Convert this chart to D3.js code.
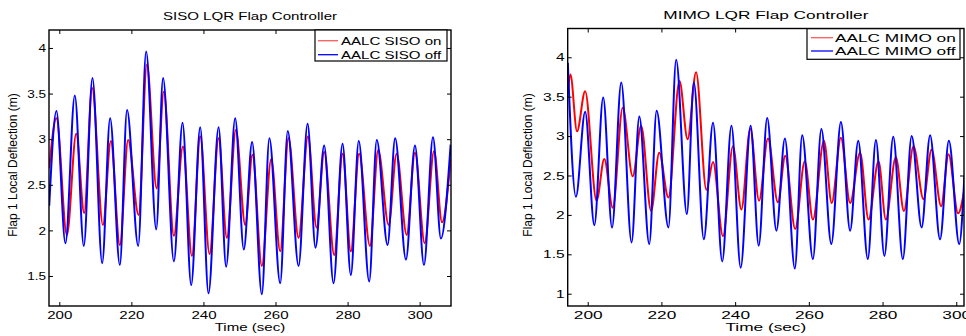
<!DOCTYPE html>
<html>
<head>
<meta charset="utf-8">
<script src="https://cdn.jsdelivr.net/npm/d3@7"></script>
<style>
  html, body { margin: 0; padding: 0; background: #fff; }
  svg { display: block; font-family: "Liberation Sans", Arial, sans-serif; }
</style>
</head>
<body>
<svg id="chart" width="966" height="336"></svg>
<script>
// ---------------- DATA ----------------
const xTicks = [200, 220, 240, 260, 280, 300];
const yTicksSiso = [1.5, 2, 2.5, 3, 3.5, 4];
const yTicksMimo = [1, 1.5, 2, 2.5, 3, 3.5, 4];

const sisoOffT = [197.2, 199.2, 201.7, 204.3, 206.8, 209.2, 211.9, 214.1, 216.8, 218.8, 221.9, 224.1, 226.9, 228.8, 231.8, 234.2, 236.6, 239.1, 241.4, 244.2, 246.3, 248.8, 251.2, 253.5, 256.2, 258.3, 261.3, 263.4, 266.4, 268.9, 271.1, 273.5, 276.1, 278.6, 280.9, 283.1, 286.0, 288.1, 291.1, 293.2, 296.2, 298.7, 301.2, 303.7, 305.9, 308.6];
const sisoOffV = [2.27, 3.31, 1.86, 3.48, 1.83, 3.67, 1.64, 3.23, 1.62, 3.32, 1.83, 3.96, 2.01, 3.67, 1.66, 3.18, 1.40, 3.13, 1.31, 3.13, 1.60, 3.23, 1.79, 2.97, 1.30, 3.01, 1.42, 3.09, 1.61, 3.17, 1.81, 2.93, 1.42, 2.95, 1.51, 2.98, 1.44, 2.99, 1.84, 3.01, 1.68, 2.93, 1.62, 3.02, 1.91, 2.94];

const sisoOnT = [197.2, 199.2, 202.1, 204.7, 206.9, 209.1, 212.1, 214.3, 216.8, 219.1, 222.0, 224.3, 227.0, 229.0, 231.8, 234.3, 236.8, 239.1, 241.7, 244.2, 246.5, 249.0, 251.6, 253.6, 256.2, 258.8, 261.3, 263.6, 266.4, 269.0, 271.4, 273.5, 276.3, 278.6, 280.9, 283.2, 286.2, 288.5, 291.4, 293.6, 296.4, 298.7, 301.4, 304.0, 306.2, 308.6];
const sisoOnV = [2.68, 3.23, 1.95, 3.06, 2.19, 3.56, 2.06, 2.98, 1.84, 2.99, 2.17, 3.82, 2.46, 3.52, 1.94, 2.92, 1.72, 3.03, 1.74, 3.01, 1.92, 3.10, 2.06, 2.83, 1.61, 2.78, 1.77, 3.01, 1.92, 3.03, 2.03, 2.86, 1.73, 2.84, 1.77, 2.84, 1.83, 2.88, 2.06, 2.84, 1.95, 2.85, 1.86, 2.87, 2.09, 2.78];

const mimoOffT = [194.6, 196.8, 199.3, 201.8, 204.2, 206.6, 209.1, 211.9, 214.0, 216.7, 218.7, 221.9, 224.0, 226.9, 228.8, 231.5, 234.0, 236.5, 239.0, 241.5, 244.2, 246.4, 248.7, 251.2, 253.5, 256.2, 258.2, 261.1, 263.4, 266.1, 268.7, 271.2, 273.4, 276.0, 278.2, 280.5, 282.9, 285.5, 287.9, 290.6, 292.9, 295.6, 298.0, 300.8, 302.2];
const mimoOffV = [3.93, 2.23, 3.31, 1.87, 3.49, 1.84, 3.68, 1.65, 3.25, 1.63, 3.32, 1.84, 3.97, 2.01, 3.68, 1.69, 3.17, 1.41, 3.13, 1.33, 3.13, 1.61, 3.23, 1.80, 2.97, 1.32, 3.01, 1.44, 3.09, 1.63, 3.18, 1.80, 2.94, 1.44, 2.95, 1.48, 2.99, 1.44, 3.00, 1.84, 3.01, 1.69, 2.94, 1.63, 2.49];

const mimoOnT = [194.6, 195.3, 197.1, 199.3, 202.4, 204.5, 206.8, 209.5, 212.2, 214.5, 217.2, 219.4, 221.9, 224.9, 227.1, 229.4, 232.2, 234.0, 236.7, 239.4, 241.7, 244.1, 246.5, 248.9, 251.6, 253.6, 256.3, 258.9, 261.1, 264.1, 266.2, 268.7, 271.2, 273.9, 276.2, 278.9, 280.9, 283.6, 285.8, 288.4, 291.1, 293.3, 295.9, 297.9, 300.5, 302.2];
const mimoOnV = [3.55, 3.78, 3.06, 3.57, 2.18, 2.71, 2.09, 3.36, 2.49, 3.13, 2.05, 2.79, 2.22, 3.70, 2.96, 3.81, 2.32, 2.67, 1.73, 2.87, 2.07, 3.09, 2.18, 2.97, 2.16, 2.75, 1.82, 2.68, 1.94, 2.94, 2.15, 2.98, 2.15, 2.79, 1.94, 2.68, 1.94, 2.73, 2.05, 2.87, 2.20, 2.83, 2.11, 2.77, 2.02, 2.32];

const titles = ["SISO LQR Flap Controller", "MIMO LQR Flap Controller"];
const legendSiso = ["AALC SISO on", "AALC SISO off"];
const legendMimo = ["AALC MIMO on", "AALC MIMO off"];
const xLabel = "Time (sec)";
const yLabel = "Flap 1 Local Deflection (m)";
const colors = ["#ff0000", "#0000ff"];

// ---------------- DRAW ----------------
const svg = d3.select("#chart");
const FS = 11.5;

function stretch(sel, sx) {
  sel.each(function () {
    const len = this.getComputedTextLength();
    d3.select(this).attr("textLength", len * sx).attr("lengthAdjust", "spacingAndGlyphs");
  });
}

function panel(cfg) {
  const { left, right, top, bottom, xDom, yDom, yTicks, series, title, titleY, legend, leg, sx } = cfg;
  const x = d3.scaleLinear().domain(xDom).range([left, right]);
  const y = d3.scaleLinear().domain(yDom).range([bottom, top]);
  const g = svg.append("g");

  const clipId = "clip" + Math.round(left);
  svg.append("defs").append("clipPath").attr("id", clipId)
    .append("rect").attr("x", left).attr("y", top).attr("width", right - left).attr("height", bottom - top);

  const line = d3.line().x(d => x(d[0])).y(d => y(d[1])).curve(d3.curveMonotoneX);
  const lines = g.append("g").attr("clip-path", `url(#${clipId})`);
  series.forEach((s, i) => {
    const pts = s.t.map((t, k) => [t, s.v[k]]);
    lines.append("path").attr("d", line(pts)).attr("fill", "none")
      .attr("stroke", colors[i]).attr("stroke-width", 2).attr("stroke-linejoin", "round");
  });

  // axes with inward ticks
  const ax = (gen, tr) => g.append("g").attr("transform", tr).call(gen)
    .call(a => a.select(".domain").remove());
  const bx = ax(d3.axisBottom(x).tickValues(xTicks).tickSize(-4).tickPadding(5).tickFormat(d3.format("d")), `translate(0,${bottom})`);
  ax(d3.axisTop(x).tickValues(xTicks).tickSize(-4).tickFormat(""), `translate(0,${top})`);
  const ly = ax(d3.axisLeft(y).tickValues(yTicks).tickSize(-4).tickPadding(3).tickFormat(d3.format("~g")), `translate(${left},0)`);
  ax(d3.axisRight(y).tickValues(yTicks).tickSize(-4).tickFormat(""), `translate(${right},0)`);
  g.selectAll(".tick line").attr("stroke", "#000").attr("stroke-width", 1);
  g.selectAll(".tick text").attr("font-size", FS).attr("font-family", "Liberation Sans, Arial, sans-serif").attr("fill", "#000");
  stretch(bx.selectAll(".tick text"), sx);
  stretch(ly.selectAll(".tick text"), sx * 0.9);

  g.append("rect").attr("x", left).attr("y", top).attr("width", right - left).attr("height", bottom - top)
    .attr("fill", "none").attr("stroke", "#000").attr("stroke-width", 1.4);

  // title
  stretch(g.append("text").attr("x", (left + right) / 2).attr("y", titleY).attr("text-anchor", "middle")
    .attr("font-size", FS).text(title), sx);
  // x label
  stretch(g.append("text").attr("x", (left + right) / 2).attr("y", 330.5).attr("text-anchor", "middle")
    .attr("font-size", FS).text(xLabel), sx);
  // y label
  g.append("text").attr("transform", `translate(${cfg.yLabX},165) rotate(-90)`)
    .attr("text-anchor", "middle").attr("dy", "0.35em").attr("font-size", 12).text(yLabel);

  // legend
  const lg = g.append("g");
  lg.append("rect").attr("x", leg.x0).attr("y", leg.y0).attr("width", leg.x1 - leg.x0).attr("height", leg.y1 - leg.y0)
    .attr("fill", "#fff").attr("stroke", "#000").attr("stroke-width", 1.2);
  legend.forEach((lab, i) => {
    const yy = leg.rows[i];
    lg.append("line").attr("x1", leg.lx0).attr("x2", leg.lx1).attr("y1", yy).attr("y2", yy)
      .attr("stroke", i === 0 ? "#ff5a5a" : colors[1]).attr("stroke-width", 1.3);
    stretch(lg.append("text").attr("x", leg.tx).attr("y", yy).attr("dy", "0.36em")
      .attr("font-size", FS).text(lab), sx);
  });
}

panel({
  left: 49, right: 451, top: 30, bottom: 306,
  xDom: [197.14, 308.7], yDom: [1.171, 4.197], yTicks: yTicksSiso,
  series: [{ t: sisoOnT, v: sisoOnV }, { t: sisoOffT, v: sisoOffV }],
  title: titles[0], titleY: 20, legend: legendSiso, sx: 1.31, yLabX: 12.5,
  leg: { x0: 315, x1: 447, y0: 30, y1: 61, lx0: 318, lx1: 338, tx: 341, rows: [40.7, 54.7] }
});

panel({
  left: 567.7, right: 964, top: 28.5, bottom: 306,
  xDom: [194.57, 302.1], yDom: [0.844, 4.365], yTicks: yTicksMimo,
  series: [{ t: mimoOnT, v: mimoOnV }, { t: mimoOffT, v: mimoOffV }],
  title: titles[1], titleY: 18.5, legend: legendMimo, sx: 1.5, yLabX: 527.5,
  leg: { x0: 807, x1: 960, y0: 28.7, y1: 59.3, lx0: 811, lx1: 833, tx: 835, rows: [37.7, 51] }
});
</script>
</body>
</html>
